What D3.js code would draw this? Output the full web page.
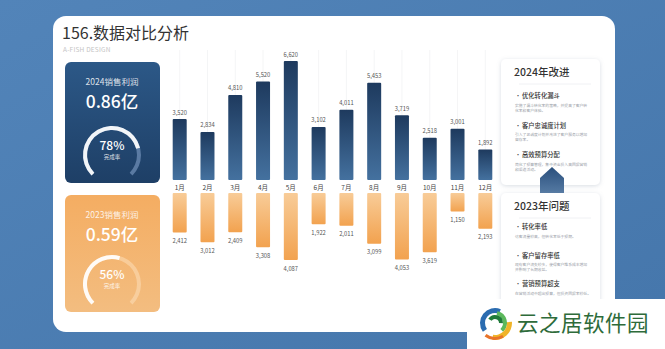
<!DOCTYPE html>
<html>
<head>
<meta charset="utf-8">
<script src="https://cdn.jsdelivr.net/npm/d3@7"></script>
<style>
  html, body { margin: 0; padding: 0; background: #4b7db2; }
  svg { display: block; font-family: "Noto Sans CJK SC", "Noto Sans", sans-serif; }
</style>
</head>
<body>
<svg id="chart" width="665" height="349"></svg>
<script>
// 数据
const months = ['1月', '2月', '3月', '4月', '5月', '6月', '7月', '8月', '9月', '10月', '11月', '12月'];
const sales2024 = [3520, 2834, 4810, 5520, 6620, 3102, 4011, 5453, 3719, 2518, 3001, 1892];
const sales2023 = [2412, 3012, 2409, 3308, 4087, 1922, 2011, 3099, 4053, 3619, 1150, 2193];

const summary = [
  { title: '2024销售利润', value: '0.86亿', rate: 0.78, label: '78%' },
  { title: '2023销售利润', value: '0.59亿', rate: 0.56, label: '56%' }
];

const improve2024 = [
  { head: '优化转化漏斗', desc: ['实施了漏斗转化率的策略，并提高了客户转', '化率和客户体验。'] },
  { head: '客户忠诚度计划', desc: ['引入了忠诚度计划并改进了客户服务以增加', '留存率。'] },
  { head: '高效预算分配', desc: ['简化了预算管理，集中资金投入高回报营销', '和渠道活动。'] }
];
const problems2023 = [
  { head: '转化率低', desc: ['访客流量较高，但转化率低于预期。'] },
  { head: '客户留存率低', desc: ['现有客户流失较多，使得客户维系成本增加', '并影响了长期收益。'] },
  { head: '营销预算超支', desc: ['在营销活动中超出预算，但投资回报率较低。'] }
];

const svg = d3.select('#chart');
const defs = svg.append('defs');

// 背景
const bgGrad = defs.append('linearGradient').attr('id', 'bg').attr('x1', 0).attr('y1', 0).attr('x2', 1).attr('y2', 1);
bgGrad.append('stop').attr('offset', '0%').attr('stop-color', '#5284b9');
bgGrad.append('stop').attr('offset', '100%').attr('stop-color', '#4576ab');
svg.append('rect').attr('width', 665).attr('height', 349).attr('fill', 'url(#bg)');

const shadow = defs.append('filter').attr('id', 'shadow').attr('x', '-20%').attr('y', '-20%').attr('width', '140%').attr('height', '140%');
shadow.append('feDropShadow').attr('dx', 0).attr('dy', 1).attr('stdDeviation', 2).attr('flood-color', '#7f8ea3').attr('flood-opacity', 0.3);

// 主卡片
svg.append('rect').attr('x', 53).attr('y', 16).attr('width', 562).attr('height', 316).attr('rx', 13)
  .attr('fill', '#ffffff');

svg.append('text').attr('x', 62).attr('y', 39).attr('font-size', 16).attr('fill', '#333')
  .text('156.数据对比分析');
svg.append('text').attr('x', 63).attr('y', 52).attr('font-size', 6.5).attr('fill', '#c4c4c4')
  .attr('letter-spacing', 0.2).text('A-FISH DESIGN');

// 左侧汇总卡片
const blueCard = defs.append('linearGradient').attr('id', 'blueCard').attr('x1', 0).attr('y1', 0).attr('x2', 0).attr('y2', 1);
blueCard.append('stop').attr('offset', '0%').attr('stop-color', '#2c5887');
blueCard.append('stop').attr('offset', '100%').attr('stop-color', '#1e3f66');
const orangeCard = defs.append('linearGradient').attr('id', 'orangeCard').attr('x1', 0).attr('y1', 0).attr('x2', 0).attr('y2', 1);
orangeCard.append('stop').attr('offset', '0%').attr('stop-color', '#f4ad62');
orangeCard.append('stop').attr('offset', '100%').attr('stop-color', '#f3bd80');

const cardBoxes = [
  { y: 62, h: 121, fill: 'url(#blueCard)', track: 'rgba(130,160,200,0.6)', cy: 155 },
  { y: 195, h: 117, fill: 'url(#orangeCard)', track: 'rgba(255,230,200,0.45)', cy: 284 }
];
const arc = d3.arc();
summary.forEach((s, i) => {
  const c = cardBoxes[i];
  const g = svg.append('g');
  g.append('rect').attr('x', 65).attr('y', c.y).attr('width', 95).attr('height', c.h).attr('rx', 6).attr('fill', c.fill);
  g.append('text').attr('x', 112).attr('y', c.y + 23).attr('text-anchor', 'middle').attr('font-size', 8.5)
    .attr('fill', 'rgba(255,255,255,0.85)').text(s.title);
  g.append('text').attr('x', 112).attr('y', c.y + 46).attr('text-anchor', 'middle').attr('font-size', 17.5)
    .attr('fill', '#fff').attr('font-weight', 500).text(s.value);
  const gauge = g.append('g').attr('transform', `translate(112,${c.cy})`);
  const start = -Math.PI * 0.75, full = Math.PI * 1.5;
  gauge.append('path').attr('fill', c.track)
    .attr('d', arc({ innerRadius: 25, outerRadius: 29, startAngle: start, endAngle: start + full, cornerRadius: 2 }));
  gauge.append('path').attr('fill', 'rgba(255,255,255,0.92)')
    .attr('d', arc({ innerRadius: 25, outerRadius: 29, startAngle: start, endAngle: start + full * s.rate, cornerRadius: 2 }));
  gauge.append('text').attr('y', -5).attr('text-anchor', 'middle').attr('font-size', 12)
    .attr('fill', '#fff').attr('font-weight', 500).text(s.label);
  gauge.append('text').attr('y', 4).attr('text-anchor', 'middle').attr('font-size', 5.5)
    .attr('fill', 'rgba(255,255,255,0.85)').text('完成率');
});

// 柱状图
const x = d3.scalePoint().domain(months).range([179.7, 485.3]);
const barW = 14;
const yUp = d3.scaleLinear().domain([0, 6620]).range([185, 61]);
const yDown = d3.scaleLinear().domain([0, 4087]).range([192.6, 260]);
const upBase = 180, downBase = 193;

const gBlue = defs.append('linearGradient').attr('id', 'gBlue').attr('x1', 0).attr('y1', 0).attr('x2', 0).attr('y2', 1);
gBlue.append('stop').attr('offset', '0%').attr('stop-color', '#1e3a5e');
gBlue.append('stop').attr('offset', '100%').attr('stop-color', '#44719f');
const gOrange = defs.append('linearGradient').attr('id', 'gOrange').attr('x1', 0).attr('y1', 0).attr('x2', 0).attr('y2', 1);
gOrange.append('stop').attr('offset', '0%').attr('stop-color', '#f8cc98');
gOrange.append('stop').attr('offset', '100%').attr('stop-color', '#f2a24f');

const grid = svg.append('g');
grid.selectAll('line').data(months).join('line')
  .attr('x1', d => x(d)).attr('x2', d => x(d)).attr('y1', 50).attr('y2', upBase)
  .attr('stroke', '#f1f2f4').attr('stroke-width', 0.8);

const fmt = d3.format(',');
const bars = svg.append('g');
bars.selectAll('.up').data(sales2024).join('rect').attr('class', 'up')
  .attr('x', (d, i) => x(months[i]) - barW / 2).attr('width', barW)
  .attr('y', d => yUp(d)).attr('height', d => upBase - yUp(d))
  .attr('rx', 1).attr('fill', 'url(#gBlue)');
bars.selectAll('.down').data(sales2023).join('rect').attr('class', 'down')
  .attr('x', (d, i) => x(months[i]) - barW / 2).attr('width', barW)
  .attr('y', downBase).attr('height', d => yDown(d) - downBase)
  .attr('rx', 1).attr('fill', 'url(#gOrange)');

const labels = svg.append('g').attr('font-size', 5.8).attr('fill', '#555').attr('text-anchor', 'middle');
labels.selectAll('.lu').data(sales2024).join('text').attr('class', 'lu')
  .attr('x', (d, i) => x(months[i])).attr('y', d => yUp(d) - 4.5).text(d => fmt(d));
labels.selectAll('.ld').data(sales2023).join('text').attr('class', 'ld')
  .attr('x', (d, i) => x(months[i])).attr('y', d => yDown(d) + 10.5).text(d => fmt(d));
labels.selectAll('.lm').data(months).join('text').attr('class', 'lm')
  .attr('x', d => x(d)).attr('y', 189.5).attr('font-size', 6.5).attr('fill', '#444').text(d => d);

// 右侧面板
function panel(y0, h, title, items, headY, itemGap) {
  const g = svg.append('g');
  g.append('rect').attr('x', 501).attr('y', y0).attr('width', 99).attr('height', h).attr('rx', 5)
    .attr('fill', '#fff').attr('filter', 'url(#shadow)');
  g.append('text').attr('x', 514).attr('y', y0 + 17).attr('font-size', 10.5).attr('fill', '#333')
    .attr('font-weight', 500).text(title);
  g.append('line').attr('x1', 519).attr('x2', 591).attr('y1', y0 + 25).attr('y2', y0 + 25)
    .attr('stroke', '#eceef1').attr('stroke-width', 0.8);
  items.forEach((it, i) => {
    const yy = y0 + headY + i * itemGap;
    g.append('text').attr('x', 515).attr('y', yy).attr('font-size', 6).attr('fill', '#444').text('•');
    g.append('text').attr('x', 522).attr('y', yy).attr('font-size', 6.3).attr('fill', '#333')
      .attr('font-weight', 500).text(it.head);
    it.desc.forEach((t, j) => {
      g.append('text').attr('x', 515).attr('y', yy + 8.5 + j * 5.2).attr('font-size', 3.8)
        .attr('fill', '#9aa0a8').text(t);
    });
  });
}
panel(59, 126, '2024年改进', improve2024, 39, 29.5);

// 箭头
const gArrow = defs.append('linearGradient').attr('id', 'gArrow').attr('x1', 0).attr('y1', 0).attr('x2', 0).attr('y2', 1);
gArrow.append('stop').attr('offset', '0%').attr('stop-color', '#2a4f7c');
gArrow.append('stop').attr('offset', '100%').attr('stop-color', '#5a7fa8');
svg.append('path').attr('d', 'M552,167 L564,178 L564,196 L540,196 L540,178 Z').attr('fill', 'url(#gArrow)');

panel(193, 115, '2023年问题', problems2023, 36, 28.5);

// 水印
svg.append('rect').attr('x', 467).attr('y', 299).attr('width', 198).attr('height', 50).attr('fill', '#fff');
const logo = svg.append('g').attr('transform', 'translate(495,323)');
const logoArcs = [
  { r0: 10, r1: 15, a0: -2.2, a1: 0.4, c: '#2b6cb0' },
  { r0: 8, r1: 12, a0: 0.2, a1: 2.4, c: '#5cb85c' },
  { r0: 12, r1: 17, a0: 1.5, a1: 3.3, c: '#f0b429' },
  { r0: 4, r1: 8, a0: -1.0, a1: 1.6, c: '#1f7a3a' },
  { r0: 14, r1: 17, a0: 2.6, a1: 3.8, c: '#e8742a' }
];
logoArcs.forEach(a => {
  logo.append('path').attr('fill', a.c)
    .attr('d', arc({ innerRadius: a.r0, outerRadius: a.r1, startAngle: a.a0, endAngle: a.a1 }));
});
svg.append('text').attr('x', 517).attr('y', 331).attr('font-size', 21.5).attr('fill', '#2e6b3a')
  .attr('letter-spacing', 0.5).text('云之居软件园');
</script>
</body>
</html>
